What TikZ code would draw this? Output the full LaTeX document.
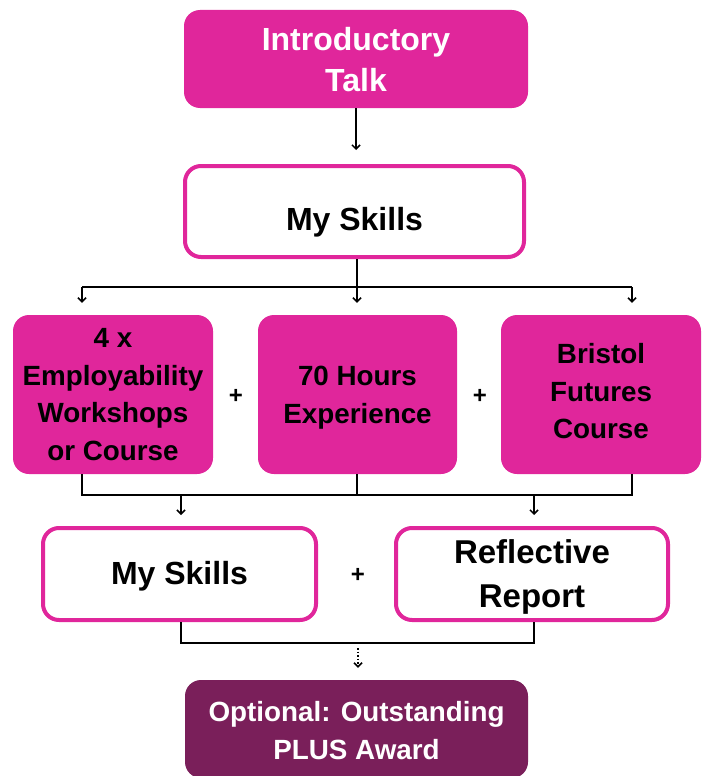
\documentclass[tikz,border=0pt]{standalone}
\usepackage{fontspec}
\setmainfont{Liberation Sans}
\usetikzlibrary{arrows.meta}
\definecolor{mag}{HTML}{E0269B}
\definecolor{plum}{HTML}{7A1F5A}
\newcommand{\myshift}[2]{\raisebox{#1}[\height][\depth]{#2}}
\begin{document}
\begin{tikzpicture}[x=1pt,y=-1pt,
  filledbox/.style={fill=mag, rounded corners=16pt, align=center, inner sep=0pt},
  outlinebox/.style={draw=mag, line width=4pt, fill=white, rounded corners=16pt, align=center, inner sep=0pt, text=black},
  toptext/.style={text=white, font=\bfseries\fontsize{32}{42}\selectfont},
  midtext/.style={text=black, font=\bfseries\fontsize{27.8}{37.5}\selectfont},
  plussign/.style={font=\bfseries\fontsize{24}{24}\selectfont, inner sep=0pt},
  conn/.style={line width=1.5pt},
  arr/.style={line width=1.5pt, -{Straight Barb[length=4pt,width=8pt]}}
]
\useasboundingbox (0,0) rectangle (705,776);

\node[filledbox, toptext, minimum width=344pt, minimum height=98pt] (intro) at (356,59) {\myshift{-1pt}{Introductory}\\Talk};
\node[outlinebox, font=\bfseries\fontsize{32}{42}\selectfont, minimum width=339pt, minimum height=91pt] (ms1) at (354.5,211.5) {\myshift{-11pt}{My Skills}};

\node[filledbox, midtext, minimum width=200pt, minimum height=159pt] (wa) at (113,394.5) {4 x\\Employability\\Workshops\\or Course};
\node[filledbox, midtext, minimum width=199pt, minimum height=159pt] (wb) at (357.5,394.5) {\myshift{-3pt}{70 Hours}\\\myshift{-3pt}{Experience}};
\node[filledbox, midtext, minimum width=200pt, minimum height=159pt] (wc) at (601,394.5) {\myshift{3pt}{Bristol}\\\myshift{3pt}{Futures}\\\myshift{3pt}{Course}};
\node[plussign] (p1) at (236,396) {+};
\node[plussign] (p2) at (480,396) {+};

\node[outlinebox, font=\bfseries\fontsize{32}{42}\selectfont, minimum width=273pt, minimum height=92pt] (ms2) at (179.5,574) {\myshift{-2pt}{My Skills}};
\node[outlinebox, font=\bfseries\fontsize{33}{44}\selectfont, minimum width=272pt, minimum height=92pt] (rr) at (532,574) {\myshift{-3pt}{Reflective}\\\myshift{-3pt}{Report}};
\node[plussign] (p3) at (358,575) {+};

\node[fill=plum, rounded corners=16pt, align=center, inner sep=0pt, text=white, font=\bfseries\fontsize{27.8}{38}\selectfont, minimum width=343pt, minimum height=98pt] (award) at (356.5,729) {\myshift{-1.5pt}{Optional: Outstanding}\\\myshift{-1.5pt}{PLUS Award}};

% connectors
\draw[arr, shorten >=14pt] (intro.south) -- (intro.south |- ms1.north);

\coordinate (j1) at (357,287);
\coordinate (la) at (82,287);
\coordinate (lc) at (632,287);
\draw[conn] (ms1.south -| j1) -- (j1);
\draw[conn] (la) -- (lc);
\draw[arr, shorten >=12pt] (la) -- (la |- wa.north);
\draw[arr, shorten >=12pt] (j1) -- (j1 |- wb.north);
\draw[arr, shorten >=12pt] (lc) -- (lc |- wc.north);

\coordinate (ba) at (82,495);
\coordinate (bb) at (357,495);
\coordinate (bc) at (632,495);
\coordinate (d1) at (181,495);
\coordinate (d2) at (534,495);
\draw[conn] (ba |- wa.south) -- (ba) -- (bc) -- (bc |- wc.south);
\draw[conn] (bb |- wb.south) -- (bb);
\draw[arr, shorten >=11pt] (d1) -- (d1 |- ms2.north);
\draw[arr, shorten >=11pt] (d2) -- (d2 |- rr.north);

\coordinate (e1) at (181,643);
\coordinate (e2) at (534,643);
\coordinate (em) at (358,648);
\draw[conn] (e1 |- ms2.south) -- (e1) -- (e2) -- (e2 |- rr.south);
\draw[line width=1.5pt, dotted, -{Straight Barb[length=4pt,width=8pt]}, shorten >=12pt] (em) -- (em |- award.north);
\end{tikzpicture}
\end{document}
